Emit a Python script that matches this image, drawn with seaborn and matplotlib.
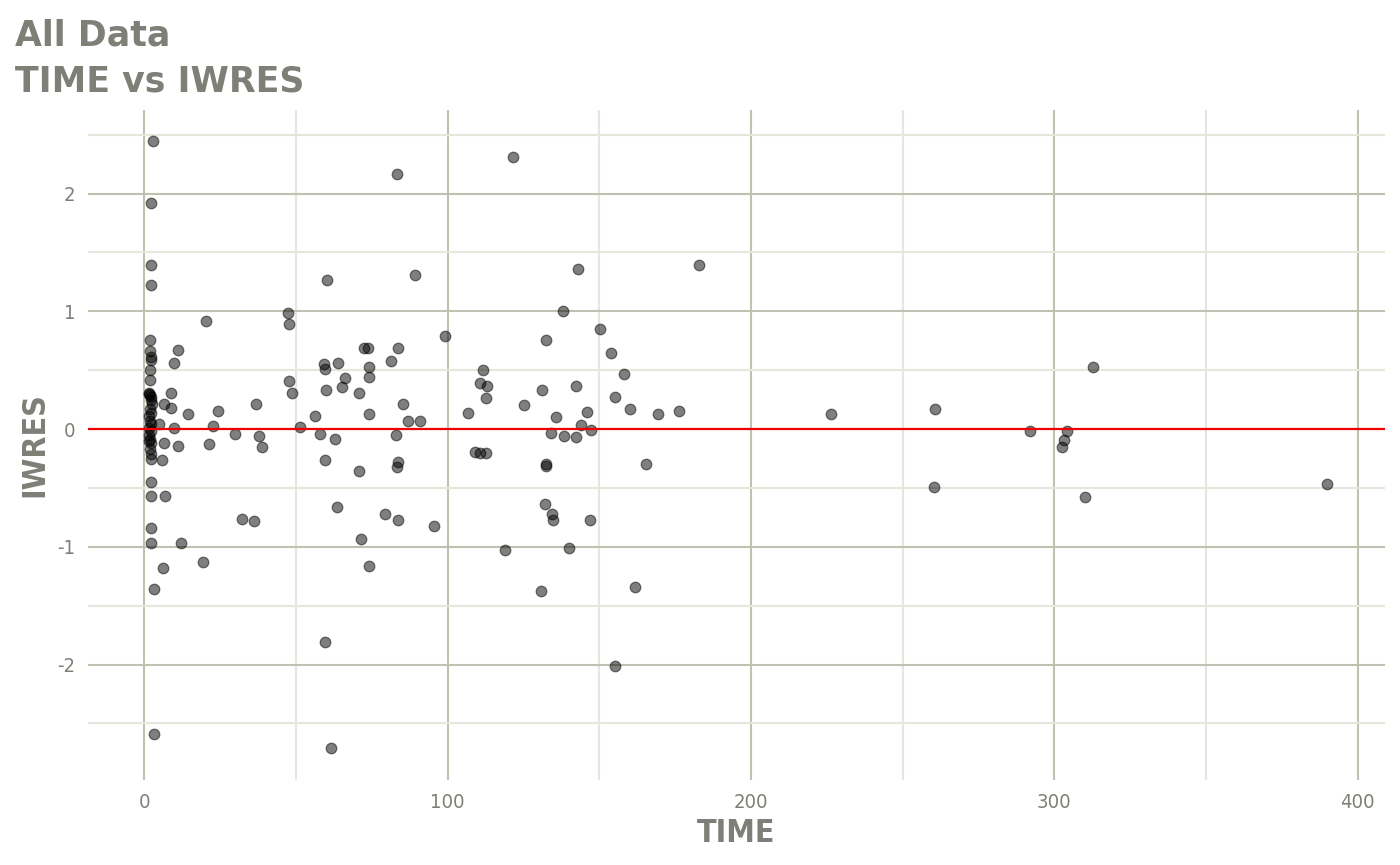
import numpy as np
import pandas as pd
import matplotlib
matplotlib.use("Agg")
import matplotlib.pyplot as plt
from matplotlib.ticker import MultipleLocator
import seaborn as sns

# --- DATA ---
time = [
    # dense cluster near zero
    1.5, 1.7, 2.0, 2.2, 2.4, 2.5, 2.0, 2.4, 1.6, 2.0, 2.4, 1.7, 2.2, 1.5, 2.0, 1.5, 2.4, 2.0, 2.4, 2.2,
    4.9, 6.4, 6.7, 5.8, 6.8, 6.3, 3.3, 3.1,
    # left column
    3.0, 2.3, 2.3, 2.3, 2.0, 2.0, 2.3, 2.3, 2.0, 2.0, 2.3, 2.3, 2.3, 2.3,
    # 5 - 40
    11.2, 9.8, 8.9, 8.7, 14.4, 24.3, 36.8, 20.3, 10.0, 22.6, 30.1, 37.8, 38.8, 11.3, 21.3,
    32.3, 36.3, 12.3, 19.3,
    # 45 - 100
    60.3, 89.3, 47.3, 47.9, 72.4, 73.9, 83.8, 59.2, 59.6, 63.8, 74.0, 81.3, 99.2, 47.9, 48.7,
    59.9, 66.2, 65.2, 70.8, 74.0, 85.2, 56.2, 74.2, 87.1, 90.8, 51.4, 57.9, 62.8, 82.9, 59.6,
    83.8, 83.4, 70.9, 63.6, 79.3, 83.7, 95.7, 71.5, 74.1, 83.4, 59.6, 61.6,
    # 100 - 185
    106.6, 143.0, 183.0, 138.2, 150.2, 132.6, 153.8, 158.2, 111.6, 110.8, 112.9, 112.6, 131.0,
    142.4, 155.2, 160.1, 169.3, 176.2, 125.2, 135.7, 145.9, 144.1, 147.2, 134.2, 138.3, 142.3,
    109.1, 110.8, 112.6, 132.4, 132.4, 165.5, 132.1, 134.3, 134.7, 147.1, 119.0, 140.1,
    121.6, 161.8, 130.8, 155.2,
    # far right
    226.4, 260.6, 260.5, 292.1, 304.1, 303.3, 302.6, 312.7, 310.2, 389.8,
]
iwres = [
    0.31, 0.30, 0.29, 0.27, 0.25, 0.21, 0.17, 0.14, 0.11, 0.07, 0.04, 0.01, -0.02, -0.05, -0.08,
    -0.10, -0.12, -0.17, -0.21, -0.25,
    0.045, 0.215, -0.12, -0.26, -0.57, -1.18, -1.36, -2.59,
    2.45, 1.92, 1.39, 1.22, 0.76, 0.66, 0.61, 0.59, 0.50, 0.42, -0.45, -0.57, -0.84, -0.97,
    0.67, 0.56, 0.31, 0.18, 0.125, 0.15, 0.215, 0.915, 0.01, 0.03, -0.04, -0.06, -0.15, -0.14,
    -0.13, -0.76, -0.78, -0.97, -1.13,
    1.27, 1.31, 0.99, 0.89, 0.685, 0.685, 0.69, 0.55, 0.51, 0.56, 0.53, 0.58, 0.79, 0.41, 0.31,
    0.33, 0.43, 0.36, 0.31, 0.44, 0.21, 0.11, 0.13, 0.065, 0.065, 0.02, -0.04, -0.08, -0.05, -0.26,
    -0.28, -0.32, -0.36, -0.66, -0.72, -0.775, -0.82, -0.93, -1.16, 2.165, -1.81, -2.71,
    0.14, 1.36, 1.39, 1.005, 0.85, 0.76, 0.645, 0.47, 0.50, 0.39, 0.365, 0.26, 0.33,
    0.365, 0.27, 0.17, 0.13, 0.155, 0.205, 0.10, 0.147, 0.034, -0.011, -0.037, -0.062, -0.068,
    -0.195, -0.20, -0.206, -0.30, -0.317, -0.295, -0.634, -0.72, -0.77, -0.773, -1.03, -1.01,
    2.31, -1.34, -1.376, -2.01,
    0.13, 0.17, -0.49, -0.02, -0.02, -0.09, -0.15, 0.53, -0.58, -0.47,
]

x_major = [0, 100, 200, 300, 400]
y_major = [-2, -1, 0, 1, 2]

df = pd.DataFrame({"TIME": time, "IWRES": iwres})

# --- STYLE ---
TXT = "#7f7f77"
MAJOR = "#c0c0b3"
MINOR = "#e6e6da"

sns.set_theme(style="white")
plt.rcParams["font.family"] = ["DejaVu Sans"]
plt.rcParams["axes.unicode_minus"] = False

fig = plt.figure(figsize=(14, 8.65), dpi=100)
ax = fig.add_axes([88 / 1400, 1 - 780 / 865, (1385 - 88) / 1400, (780 - 110) / 865])

sns.scatterplot(data=df, x="TIME", y="IWRES", ax=ax, color="black", alpha=0.5,
                s=58, edgecolor="black", linewidth=0.9, zorder=3)
ax.axhline(0, color="#ee0000", lw=1.6, zorder=4)

ax.set_xlim(-18.5, 409)
ax.set_ylim(-2.98, 2.71)
ax.set_xticks(x_major)
ax.set_yticks(y_major)
ax.xaxis.set_minor_locator(MultipleLocator(50))
ax.yaxis.set_minor_locator(MultipleLocator(0.5))

ax.grid(which="major", color=MAJOR, lw=1.5, zorder=0)
ax.grid(which="minor", color=MINOR, lw=1.5, zorder=0)
ax.set_axisbelow(True)
for s in ax.spines.values():
    s.set_visible(False)

ax.tick_params(which="major", length=5, width=1.5, color=TXT, labelcolor=TXT,
               labelsize=14.5, pad=4)
ax.tick_params(which="minor", length=0)
for lab in ax.get_xticklabels() + ax.get_yticklabels():
    lab.set_fontstretch("condensed")

ax.set_xlabel("TIME", fontsize=23, fontweight="bold", color=TXT, fontstretch="condensed", labelpad=5)
ax.set_ylabel("IWRES", fontsize=23, fontweight="bold", color=TXT, fontstretch="condensed", labelpad=5)

fig.text(15 / 1400, 1 - 45 / 865, "All Data", fontsize=25, fontweight="bold", color=TXT, va="baseline")
fig.text(15 / 1400, 1 - 92 / 865, "TIME vs IWRES", fontsize=25, fontweight="bold", color=TXT, va="baseline")

fig.savefig("out.png", dpi=100)
